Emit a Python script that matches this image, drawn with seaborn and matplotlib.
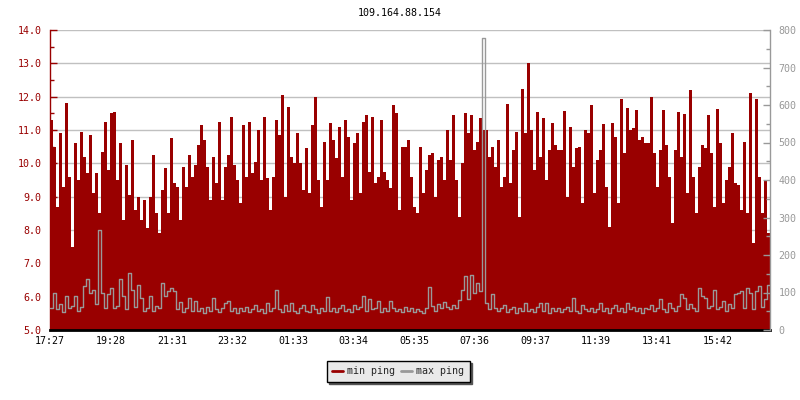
import numpy as np
import pandas as pd
import seaborn as sns
import matplotlib.pyplot as plt
from matplotlib.lines import Line2D
from matplotlib.ticker import MultipleLocator, FormatStrFormatter

# Datos (una muestra cada 6 minutos)
title = '109.164.88.154'
start = '2024-01-01 17:27'
step_minutes = 6
span_minutes = 1440
tick_labels = ['17:27', '19:28', '21:31', '23:32', '01:33', '03:34',
               '05:35', '07:36', '09:37', '11:39', '13:41', '15:42']

min_ping = [
    11.3, 10.5, 8.7, 10.9, 9.3, 11.8, 9.6, 7.5, 10.6, 9.5,
    10.95, 10.2, 9.7, 10.85, 9.1, 9.7, 8.5, 10.35, 11.25, 9.8,
    11.5, 11.55, 9.5, 10.6, 8.3, 9.95, 9.05, 10.7, 8.6, 9.0,
    8.3, 8.9, 8.05, 9.0, 10.25, 8.5, 7.9, 9.2, 9.85, 8.5,
    10.75, 9.4, 9.3, 8.3, 9.9, 9.3, 10.25, 9.6, 9.95, 10.55,
    11.15, 10.7, 9.9, 8.9, 10.2, 9.4, 11.25, 8.9, 9.9, 10.25,
    11.4, 9.95, 9.5, 8.8, 11.15, 9.6, 11.25, 9.7, 10.05, 11.0,
    9.5, 11.4, 9.55, 8.6, 9.6, 11.3, 10.85, 12.05, 9.0, 11.7,
    10.2, 10.0, 10.9, 10.0, 9.2, 10.45, 9.1, 11.15, 12.0, 9.5,
    8.7, 10.65, 9.5, 11.2, 10.7, 10.15, 11.1, 9.6, 11.3, 10.8,
    8.9, 10.6, 10.9, 9.1, 11.25, 11.45, 9.75, 11.4, 9.4, 9.6,
    11.3, 9.75, 9.5, 9.25, 11.75, 11.5, 8.6, 10.5, 10.5, 10.7,
    9.6, 8.7, 8.5, 10.5, 9.1, 9.8, 10.25, 10.3, 9.0, 10.1,
    10.2, 9.5, 11.0, 10.1, 11.45, 9.5, 8.4, 10.0, 11.5, 10.9,
    11.45, 10.4, 10.65, 11.35, 11.0, 11.0, 10.2, 10.5, 9.9, 10.7,
    9.3, 9.6, 11.78, 9.4, 10.4, 10.95, 8.4, 12.22, 10.9, 13.0,
    11.0, 9.8, 11.55, 10.2, 11.35, 9.5, 10.4, 11.2, 10.55, 10.4,
    10.4, 11.58, 9.0, 11.1, 9.9, 10.45, 10.5, 8.8, 11.0, 10.9,
    11.75, 9.1, 10.1, 10.4, 11.18, 9.3, 8.1, 11.2, 10.8, 8.8,
    11.94, 10.3, 11.66, 11.0, 11.05, 11.6, 10.7, 10.8, 10.6, 10.6,
    12.0, 10.3, 9.3, 10.4, 11.6, 10.55, 9.6, 8.2, 10.4, 11.55,
    10.2, 11.47, 9.1, 12.2, 9.6, 8.5, 9.9, 10.55, 10.45, 11.45,
    10.3, 8.7, 11.63, 10.6, 8.8, 9.5, 9.9, 10.9, 9.4, 9.35,
    8.6, 10.65, 8.5, 12.1, 7.6, 11.92, 9.6, 8.5, 9.5, 7.9,
]

max_ping = [
    60, 98, 55, 70, 48, 90, 58, 65, 90, 52,
    62, 117, 137, 100, 108, 70, 268, 100, 60, 95,
    113, 58, 65, 135, 90, 55, 151, 108, 62, 119,
    86, 52, 60, 90, 50, 65, 58, 126, 90, 104,
    113, 104, 55, 75, 48, 60, 86, 52, 77, 50,
    58, 45, 62, 50, 86, 55, 48, 60, 73, 77,
    52, 60, 45, 58, 50, 62, 48, 55, 68, 50,
    57, 45, 73, 52, 60, 108, 55, 48, 68, 52,
    73, 50, 45, 58, 68, 52, 48, 68, 55, 45,
    60, 50, 88, 52, 58, 48, 60, 68, 50, 55,
    48, 68, 55, 62, 90, 52, 82, 55, 60, 77,
    48, 58, 52, 77, 60, 50, 55, 48, 62, 52,
    58, 48, 55, 50, 45, 60, 115, 65, 52, 70,
    58, 75, 62, 55, 68, 60, 80, 108, 144, 82,
    148, 100, 126, 104, 780, 73, 55, 95, 60, 50,
    58, 68, 48, 55, 62, 45, 60, 52, 73, 50,
    55, 48, 62, 73, 50, 73, 45, 58, 52, 60,
    48, 55, 62, 50, 86, 52, 45, 68, 55, 50,
    58, 48, 55, 73, 50, 60, 45, 58, 68, 52,
    60, 48, 73, 55, 62, 50, 58, 45, 60, 55,
    68, 52, 60, 82, 55, 48, 73, 60, 52, 65,
    95, 86, 55, 70, 60, 52, 113, 90, 86, 58,
    65, 108, 55, 62, 77, 50, 70, 58, 95, 100,
    104, 60, 113, 100, 55, 104, 117, 62, 82, 119,
]

red = '#990000'
gray = '#999999'

sns.set_style('white')
plt.rcParams['font.family'] = ['DejaVu Sans Mono', 'DejaVu Sans']
fs = 7.2

times = pd.date_range(start, periods=len(min_ping), freq=f'{step_minutes}min')
t0 = times[0]
end = t0 + pd.Timedelta(minutes=span_minutes)

# alargar el ultimo escalon hasta el final del eje
df = pd.DataFrame({
    'time': list(times) + [end],
    'min': min_ping + [min_ping[-1]],
    'max': max_ping + [max_ping[-1]],
})

fig = plt.figure(figsize=(8, 4), dpi=100)
ax = fig.add_axes([50 / 800, 70 / 400, 720 / 800, 300 / 400])
ax2 = ax.twinx()

ax.fill_between(df['time'], df['min'], 5, step='post', color=red, lw=0, zorder=2)
sns.lineplot(data=df, x='time', y='max', ax=ax2, color=gray, lw=1,
             drawstyle='steps-post', zorder=3)

# eje izquierdo
ax.set_ylim(5, 14)
ax.yaxis.set_major_locator(MultipleLocator(1))
ax.yaxis.set_minor_locator(MultipleLocator(0.5))
ax.yaxis.set_major_formatter(FormatStrFormatter('%.1f'))
ax.yaxis.grid(True, color='#c0c0c0', lw=1)
ax.set_axisbelow(True)
ax.tick_params(axis='y', which='major', direction='in', length=5, width=1,
               color=red, labelcolor=red, labelsize=fs, pad=6)
ax.tick_params(axis='y', which='minor', direction='in', length=3, width=1, color=red)
ax.set_ylabel('')

# eje derecho
ax2.set_ylim(0, 800)
ax2.yaxis.set_major_locator(MultipleLocator(100))
ax2.yaxis.set_minor_locator(MultipleLocator(50))
ax2.tick_params(axis='y', which='major', direction='in', length=5, width=1,
                color=gray, labelcolor=gray, labelsize=fs, pad=6)
ax2.tick_params(axis='y', which='minor', direction='in', length=3, width=1, color=gray)
ax2.set_ylabel('')
ax2.grid(False)

# eje x
tick_pos = []
start_min = t0.hour * 60 + t0.minute
for lab in tick_labels:
    h, m = map(int, lab.split(':'))
    tick_pos.append(t0 + pd.Timedelta(minutes=(h * 60 + m - start_min) % 1440))
ax.set_xlim(t0, end)
ax.set_xticks(tick_pos)
ax.set_xticklabels(tick_labels)
ax.tick_params(axis='x', direction='in', length=5, width=1, color='black',
               labelcolor='black', labelsize=fs, pad=4)
ax.set_xlabel('')
ax2.set_xlabel('')

for s in ['top', 'right']:
    ax.spines[s].set_visible(False)
ax2.spines['top'].set_visible(False)
ax2.spines['left'].set_visible(False)
ax2.spines['bottom'].set_visible(False)
ax.spines['left'].set_color(red)
ax.spines['left'].set_linewidth(1)
ax2.spines['right'].set_color(gray)
ax2.spines['right'].set_linewidth(1)
ax.spines['bottom'].set_color('black')
ax.spines['bottom'].set_linewidth(2)

fig.text(0.5, 1 - 13 / 400, title, ha='center', va='center', fontsize=fs, color='black')

handles = [Line2D([], [], color=red, lw=2), Line2D([], [], color=gray, lw=2)]
fig.legend(handles, ['min ping', 'max ping'], loc='center',
           bbox_to_anchor=(398 / 800, 1 - 371 / 400), ncol=2, fontsize=fs,
           frameon=True, fancybox=False, framealpha=1, facecolor='#e9e9e9',
           edgecolor='black', shadow={'color': '#555555', 'alpha': 1},
           handlelength=1.1, handletextpad=0.4, columnspacing=0.6,
           borderpad=0.55)

fig.savefig('out.png', dpi=100)
